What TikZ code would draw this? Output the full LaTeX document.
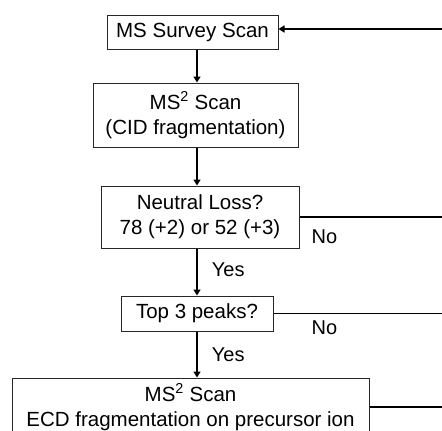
\documentclass[tikz,border=0pt]{standalone}
\usepackage{fontspec}
\setmainfont{Liberation Sans}
\usetikzlibrary{arrows.meta}

\begin{document}
\begin{tikzpicture}[
  x=1pt, y=1pt,
  stepbox/.style={draw=black!85, line width=1pt, inner sep=0pt, align=center,
    font=\fontsize{20.5}{25}\selectfont},
  arr/.style={line width=1.8pt, -{Triangle[length=6pt,width=7pt]}},
  lbl/.style={font=\fontsize{20}{23}\selectfont, inner sep=0pt, anchor=west},
]

\useasboundingbox (0,0) rectangle (442,-431);

\node [stepbox, minimum width=171pt, minimum height=34pt] (survey) at (192.5,-32) {MS Survey Scan};
\node [stepbox, minimum width=205pt, minimum height=64pt] (cid) at (195.5,-115) {MS\textsuperscript{2} Scan\\(CID fragmentation)};
\node [stepbox, minimum width=198pt, minimum height=62pt] (loss) at (200,-217) {Neutral Loss?\\78 (+2) or 52 (+3)};
\node [stepbox, minimum width=152pt, minimum height=35pt] (top) at (197,-313.5) {Top 3 peaks?};
\node [stepbox, minimum width=357pt, minimum height=58pt] (ecd) at (190.5,-407) {MS\textsuperscript{2} Scan\\ECD fragmentation on precursor ion};

\coordinate (spine) at (197,0);
\coordinate (edge) at (449,0);

\draw [arr] (survey.south -| spine) -- (cid.north -| spine);
\draw [arr] (cid.south -| spine) -- (loss.north -| spine);
\draw [arr] (loss.south -| spine) -- (top.north -| spine) node [lbl, midway, xshift=14pt, yshift=2pt] (yes1) {Yes};
\draw [arr] (top.south -| spine) -- (ecd.north -| spine) node [lbl, midway, xshift=14pt] (yes2) {Yes};

\draw [arr] (edge |- 0,-29) -- ([yshift=3pt]survey.east);
\draw [arr] (loss.east) -- (edge |- loss.east);
\draw [arr] (top.east) -- (edge |- top.east);
\draw [line width=1.8pt] (ecd.east) -- (edge |- ecd.east);

\node [lbl] (no1) at ([xshift=12pt,yshift=-20pt]loss.east) {No};
\node [lbl] (no2) at ([xshift=38pt,yshift=-14pt]top.east) {No};

\end{tikzpicture}
\end{document}
